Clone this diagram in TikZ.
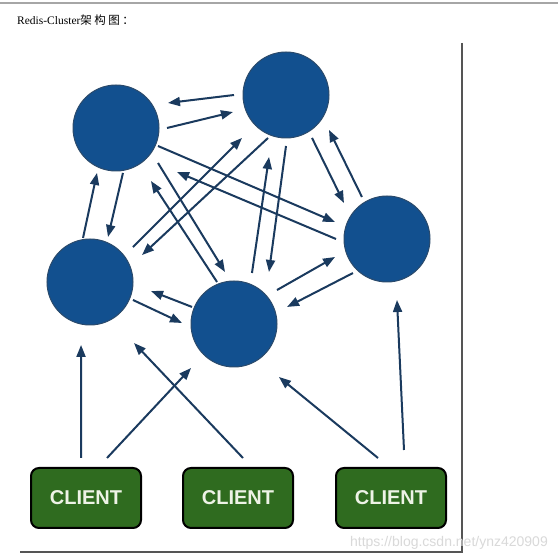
\documentclass[tikz,border=0pt]{standalone}
\usepackage{fontspec}
\setmainfont{Liberation Serif}
\newfontfamily\cjk{Noto Sans CJK SC}
\newfontfamily\clientfont{Liberation Sans}
\usetikzlibrary{arrows.meta,calc}
\definecolor{redisBlue}{HTML}{12508F}
\definecolor{redisEdge}{HTML}{2B4A6B}
\definecolor{linkNavy}{HTML}{1A3A5E}
\definecolor{clientGreen}{HTML}{2F6B1F}
\definecolor{clientText}{HTML}{EEF3E6}
\definecolor{frameGray}{HTML}{555555}
\definecolor{markGray}{HTML}{D9D9D9}
\tikzset{
    redis/.style={
        circle,
        fill=redisBlue,
        draw=redisEdge,
        line width=1pt,
        minimum size=86pt,
        inner sep=0pt
    },
    client/.style={
        rectangle,
        rounded corners=8pt,
        draw=black,
        line width=2pt,
        fill=clientGreen,
        text=clientText,
        font=\clientfont\bfseries\fontsize{20}{24}\selectfont,
        minimum width=110pt,
        minimum height=60pt
    },
    arrow/.style={-{Triangle[length=12pt,width=9pt]},line width=2pt,draw=linkNavy}
}

\begin{document}
\begin{tikzpicture}[x=1pt,y=1pt]
    \useasboundingbox[fill=white] (0,0) rectangle (558,560);
    % page frame
    \draw[gray!70,line width=1.5pt] (0,557) -- (558,557);
    \draw[frameGray,line width=1.5pt] (462,517) -- (462,8) -- (20,8);
    \node[anchor=base west,font=\fontsize{11.5}{14}\selectfont,inner sep=0pt]
        (title) at (17,535) {Redis-Cluster{\cjk 架\hspace{2.5pt}构\hspace{2.5pt}图\hspace{2.5pt}：}};

    \node[redis] (redisA) at (116,432) {};
    \node[redis] (redisB) at (286,465) {};
    \node[redis] (redisC) at (387,321) {};
    \node[redis] (redisD) at (90,278) {};
    \node[redis] (redisE) at (234,236) {};

    \node[client] (client1) at (86,62) {CLIENT};
    \node[client] (client2) at (238,62) {CLIENT};
    \node[client] (client3) at (391,62) {CLIENT};

    % links between the masters
    \draw[arrow] ($(redisB)+(180:52)$) -- ($(redisA)+(25.7:57.7)$);
    \draw[arrow] ($(redisA)+(0:51)$) -- ($(redisB)+(197.8:55.7)$);
    \draw[arrow] ($(redisA)+(-23.2:45.7)$) -- ($(redisC)+(161.9:54.7)$);
    \draw[arrow] ($(redisC)+(180:51)$) -- ($(redisA)+(-35.8:75.2)$);
    \draw[arrow] ($(redisD)+(39.1:55.4)$) -- ($(redisB)+(224.3:61.5)$);
    \draw[arrow] ($(redisB)+(247.3:46.6)$) -- ($(redisD)+(27.4:58.6)$);
    \draw[arrow] ($(redisA)+(-39.8:54.7)$) -- ($(redisE)+(99.8:52.8)$);
    \draw[arrow] ($(redisE)+(112:45.3)$) -- ($(redisA)+(-56.6:63.5)$);
    \draw[arrow] ($(redisE)+(70.6:54.1)$) -- ($(redisB)+(254.7:64.3)$);
    \draw[arrow] ($(redisB)+(270:51)$) -- ($(redisE)+(56.1:62.7)$);
    \draw[arrow] ($(redisB)+(-58.8:50.2)$) -- ($(redisC)+(140.1:56.1)$);
    \draw[arrow] ($(redisC)+(120.8:48.9)$) -- ($(redisB)+(-39.1:55.4)$);
    \draw[arrow] ($(redisA)+(-81.2:45.5)$) -- ($(redisD)+(68.2:48.5)$);
    \draw[arrow] ($(redisD)+(99:44.6)$) -- ($(redisA)+(247.1:48.8)$);
    \draw[arrow] ($(redisE)+(38.3:54.8)$) -- ($(redisC)+(199.1:55)$);
    \draw[arrow] ($(redisC)+(225:48.1)$) -- ($(redisE)+(17.8:55.7)$);
    \draw[arrow] ($(redisE)+(157.9:45.3)$) -- ($(redisD)+(-8.4:61.7)$);
    \draw[arrow] ($(redisD)+(-22.7:46.6)$) -- ($(redisE)+(178.9:52)$);

    % clients
    \draw[arrow] ($(client1.north)+(-5,9)$) -- ($(redisD)+(261.9:63.6)$);
    \draw[arrow] ($(client1.north)+(21,9)$) -- ($(redisE)+(225.7:61.5)$);
    \draw[arrow] ($(client2.north)+(5,9)$) -- ($(redisD)+(-54.2:75.2)$);
    \draw[arrow] ($(client3.north)+(-13,9)$) -- ($(redisE)+(-49.7:69.5)$);
    \draw[arrow] ($(client3.north)+(13,17)$) -- ($(redisC)+(-80.7:61.8)$);

    \node[anchor=base east,text=markGray,font=\clientfont\fontsize{14}{16}\selectfont,inner sep=0pt]
        (mark) at (548,13) {https://blog.csdn.net/ynz420909};
\end{tikzpicture}
\end{document}
